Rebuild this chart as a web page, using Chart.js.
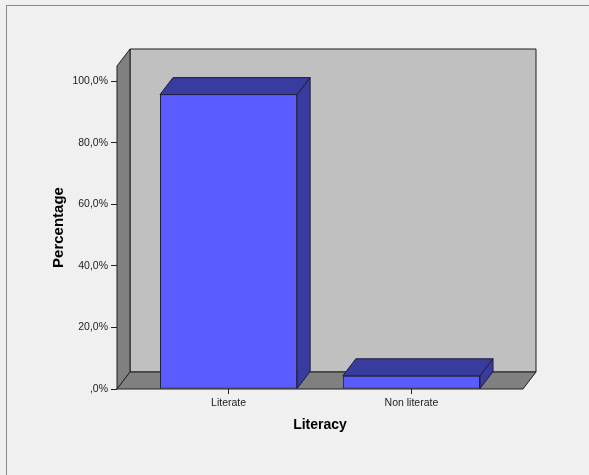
<!DOCTYPE html>
<html lang="en">

<head>
    <meta charset="UTF-8" />
    <title>Literacy</title>
    <script src="https://cdn.jsdelivr.net/npm/chart.js"></script>
    <style>
        body { margin: 0; background: #f0f0f0; }
        #frame {
            position: absolute; left: 6px; top: 5px; width: 640px; height: 520px;
            border: 1px solid #8a8a8a; box-sizing: border-box;
        }
        #wrap { position: absolute; left: 0; top: 0; width: 589px; height: 475px; }
    </style>
</head>

<body>
    <div id="frame"></div>
    <div id="wrap"><canvas id="grafica" width="589" height="475"></canvas></div>

    <script>
        // data
        const categories = ["Literate", "Non literate"];
        const percentages = [95.7, 4.3];
        const yTickValues = [0, 20, 40, 60, 80, 100];
        const yTickLabels = [",0%", "20,0%", "40,0%", "60,0%", "80,0%", "100,0%"];

        // depth of the fake 3D box
        const dx = 13, dy = -17;

        function poly(ctx, pts, fill) {
            ctx.beginPath();
            ctx.moveTo(pts[0][0], pts[0][1]);
            for (let i = 1; i < pts.length; i++) ctx.lineTo(pts[i][0], pts[i][1]);
            ctx.closePath();
            ctx.fillStyle = fill;
            ctx.fill();
            ctx.stroke();
        }

        const box3d = {
            id: "box3d",
            beforeDatasetsDraw(chart) {
                const { ctx, chartArea: a } = chart;
                ctx.save();
                ctx.lineWidth = 1;
                ctx.strokeStyle = "#1e1e1e";
                // back wall
                poly(ctx, [[a.left + dx, a.top + dy], [a.right + dx, a.top + dy], [a.right + dx, a.bottom + dy], [a.left + dx, a.bottom + dy]], "#c0c0c0");
                // left wall
                poly(ctx, [[a.left, a.top], [a.left + dx, a.top + dy], [a.left + dx, a.bottom + dy], [a.left, a.bottom]], "#808080");
                // floor
                poly(ctx, [[a.left, a.bottom], [a.left + dx, a.bottom + dy], [a.right + dx, a.bottom + dy], [a.right, a.bottom]], "#808080");
                ctx.restore();
            },
            afterDatasetsDraw(chart) {
                const ctx = chart.ctx;
                ctx.save();
                ctx.lineWidth = 1;
                ctx.strokeStyle = "#1e1e3c";
                chart.getDatasetMeta(0).data.forEach(bar => {
                    const { x, y, base, width } = bar.getProps(["x", "y", "base", "width"], true);
                    const l = x - width / 2, r = x + width / 2;
                    // top face
                    poly(ctx, [[l, y], [l + dx, y + dy], [r + dx, y + dy], [r, y]], "#383c9e");
                    // side face
                    poly(ctx, [[r, y], [r + dx, y + dy], [r + dx, base + dy], [r, base]], "#383c9e");
                });
                ctx.restore();
            }
        };

        const ctx = document.getElementById("grafica").getContext("2d");
        new Chart(ctx, {
            type: "bar",
            data: {
                datasets: [{
                    data: categories.map((c, i) => ({ x: i, y: percentages[i] })),
                    backgroundColor: "#5a5cff",
                    borderColor: "#1e1e3c",
                    borderWidth: 1,
                    borderSkipped: false,
                    barPercentage: 0.75,
                    categoryPercentage: 1
                }]
            },
            options: {
                responsive: false,
                animation: false,
                layout: { padding: { left: 0, top: 66, right: 66, bottom: 0 } },
                plugins: { legend: { display: false }, tooltip: { enabled: false } },
                scales: {
                    x: {
                        type: "linear",
                        offset: false,
                        min: -0.61,
                        max: 1.61,
                        afterBuildTicks: s => { s.ticks = categories.map((c, i) => ({ value: i })); },
                        afterFit: s => { s.height = 86; },
                        border: { display: false },
                        grid: { offset: false, drawOnChartArea: false, tickLength: 5, color: "#222" },
                        ticks: {
                            padding: 3,
                            maxRotation: 0,
                            color: "#222",
                            font: { family: "'Liberation Sans', Arial", size: 10.5 },
                            callback: v => categories[v]
                        },
                        title: {
                            display: true,
                            text: "Literacy",
                            color: "#000",
                            font: { family: "'Liberation Sans', Arial", size: 14, weight: "bold" },
                            padding: { top: 0, bottom: 41.6 }
                        }
                    },
                    y: {
                        min: 0,
                        max: 105,
                        afterBuildTicks: s => { s.ticks = yTickValues.map(v => ({ value: v })); },
                        afterFit: s => { s.width = 117; },
                        border: { display: false },
                        grid: { drawOnChartArea: false, tickLength: 6, color: "#222" },
                        ticks: {
                            padding: 3,
                            color: "#222",
                            font: { family: "'Liberation Sans', Arial", size: 10.5 },
                            callback: v => yTickLabels[yTickValues.indexOf(v)]
                        },
                        title: {
                            display: true,
                            text: "Percentage",
                            color: "#000",
                            font: { family: "'Liberation Sans', Arial", size: 15, weight: "bold" },
                            padding: { top: 49.5, bottom: 0 }
                        }
                    }
                }
            },
            plugins: [box3d]
        });
    </script>
</body>

</html>
